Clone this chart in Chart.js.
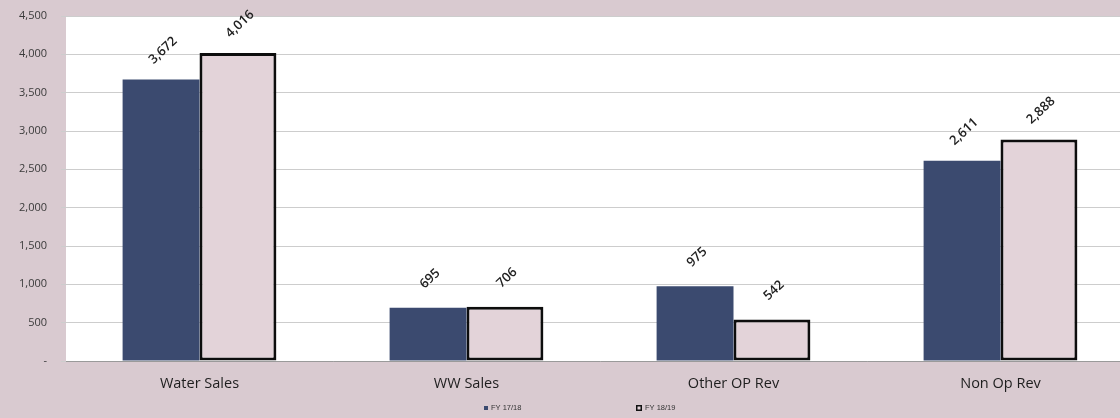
<!DOCTYPE html>
<html>
<head>
<meta charset="utf-8">
<script src="https://cdn.jsdelivr.net/npm/chart.js@4.4.1/dist/chart.umd.min.js"></script>
<style>
  html, body { margin: 0; padding: 0; background: #d9cad0; overflow: hidden; }
  #wrap { width: 1120px; height: 418px; overflow: hidden; position: relative; }
  canvas { display: block; }
</style>
</head>
<body>
<div id="wrap"><canvas id="c" width="1134" height="418"></canvas></div>
<script>
// Revenue categories and the two fiscal-year series (in thousands)
const categories = ['Water Sales', 'WW Sales', 'Other OP Rev', 'Non Op Rev'];
const seriesNames = ['FY 17/18', 'FY 18/19'];
const fy1718 = [3672, 695, 975, 2611];
const fy1819 = [4016, 706, 542, 2888];
const yTicks = [0, 500, 1000, 1500, 2000, 2500, 3000, 3500, 4000, 4500];

const BG = '#d9cad0';
const NAVY = '#3b4a6f';
const PINK = '#e3d3d9';

const fmt = v => v === 0 ? '-' : v.toLocaleString('en-US');

// Page background behind the white plotting area
const backdrop = {
  id: 'backdrop',
  beforeDraw(chart) {
    const { ctx, chartArea: a } = chart;
    ctx.save();
    ctx.fillStyle = BG;
    ctx.fillRect(0, 0, chart.width, chart.height);
    ctx.fillStyle = '#ffffff';
    ctx.fillRect(a.left, a.top, a.right - a.left, a.bottom - a.top);
    ctx.restore();
  }
};

// Rotated value labels above each bar
const valueLabels = {
  id: 'valueLabels',
  afterDatasetsDraw(chart) {
    const { ctx } = chart;
    ctx.save();
    ctx.font = '600 13px "Open Sans", "Liberation Sans", sans-serif';
    ctx.fillStyle = '#222222';
    ctx.textAlign = 'center';
    ctx.textBaseline = 'middle';
    chart.data.datasets.forEach((ds, di) => {
      chart.getDatasetMeta(di).data.forEach((bar, i) => {
        ctx.save();
        ctx.translate(bar.x + 2, bar.y - 29);
        ctx.rotate(-Math.PI / 4.2);
        ctx.fillText(fmt(ds.data[i]), 0, 0);
        ctx.restore();
      });
    });
    ctx.restore();
  }
};

// Small legend along the bottom edge
const bottomLegend = {
  id: 'bottomLegend',
  afterDraw(chart) {
    const { ctx } = chart;
    const xs = [484, 636];
    const y = 408;
    ctx.save();
    ctx.font = '7.5px "Liberation Sans", sans-serif';
    ctx.textBaseline = 'middle';
    ctx.textAlign = 'left';
    chart.data.datasets.forEach((ds, i) => {
      const x = xs[i];
      if (i === 0) {
        ctx.fillStyle = ds.backgroundColor;
        ctx.fillRect(x, y - 2, 4, 4);
      } else {
        ctx.fillStyle = '#111';
        ctx.fillRect(x, y - 3, 6, 6);
        ctx.fillStyle = ds.backgroundColor;
        ctx.fillRect(x + 1.5, y - 1.5, 3, 3);
      }
      ctx.fillStyle = '#333';
      ctx.fillText(ds.label, x + (i === 0 ? 7 : 9), y);
    });
    ctx.restore();
  }
};

new Chart(document.getElementById('c'), {
  type: 'bar',
  data: {
    labels: categories,
    datasets: [
      {
        label: seriesNames[0],
        data: fy1718,
        backgroundColor: NAVY,
        borderWidth: 0,
        categoryPercentage: 0.576,
        barPercentage: 1.0
      },
      {
        label: seriesNames[1],
        data: fy1819,
        backgroundColor: PINK,
        borderColor: '#0d0d0d',
        borderWidth: 3,
        borderSkipped: false,
        categoryPercentage: 0.576,
        barPercentage: 1.0
      }
    ]
  },
  options: {
    responsive: false,
    animation: false,
    devicePixelRatio: 1,
    layout: { padding: { top: 16, right: 0, bottom: 0, left: 0 } },
    plugins: {
      legend: { display: false },
      tooltip: { enabled: false }
    },
    scales: {
      x: {
        grid: { display: false },
        border: { display: true, color: '#9a9a9a', width: 1 },
        ticks: {
          color: '#1e1e1e',
          padding: 6,
          font: { family: '"Open Sans", "Liberation Sans", sans-serif', size: 14.5 }
        },
        afterFit(scale) { scale.height = 57; }
      },
      y: {
        min: 0,
        max: 4500,
        afterBuildTicks(scale) { scale.ticks = yTicks.map(v => ({ value: v })); },
        grid: { color: '#cdcdcd', lineWidth: 1, tickLength: 5 },
        border: { display: false },
        ticks: {
          color: '#3a3a3a',
          padding: 14,
          font: { family: '"Open Sans", "Liberation Sans", sans-serif', size: 11, lineHeight: 0.2 },
          callback: v => fmt(v)
        },
        afterFit(scale) { scale.width = 66; }
      }
    }
  },
  plugins: [backdrop, valueLabels, bottomLegend]
});
</script>
</body>
</html>
